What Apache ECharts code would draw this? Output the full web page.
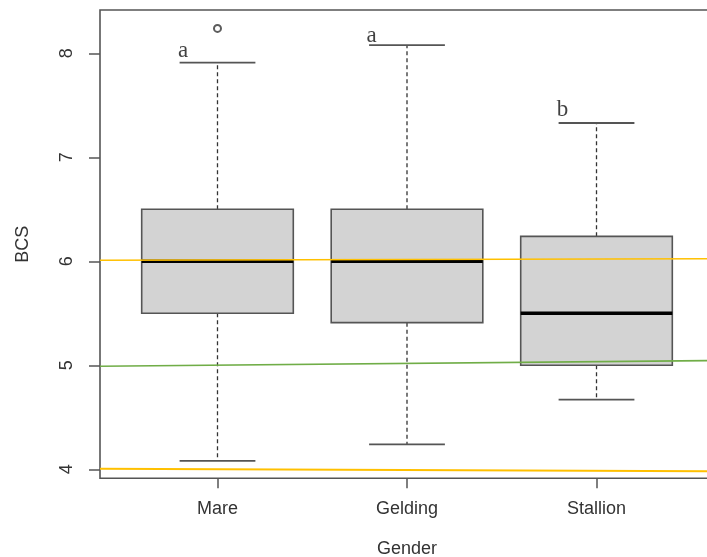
<!DOCTYPE html>
<html>
<head>
<meta charset="utf-8">
<script src="https://cdn.jsdelivr.net/npm/echarts@6/dist/echarts.min.js"></script>
<style>
html, body { margin: 0; padding: 0; background: #fff; }
#main { width: 707px; height: 557px; }
</style>
</head>
<body>
<div id="main"></div>
<script>
// box plot of BCS by gender
var categories = ["Mare", "Gelding", "Stallion"];
var positions = [1, 2, 3];
var lowWhisker = [4.08, 4.24, 4.67];
var q1 = [5.5, 5.41, 5.0];
var median = [6.0, 6.0, 5.5];
var q3 = [6.5, 6.5, 6.24];
var highWhisker = [7.91, 8.08, 7.33];
var outliers = [[1, 8.24]];
var letters = ["a", "a", "b"];
var letterPos = [[0.818, 8.02], [1.813, 8.17], [2.82, 7.46]];
var yTicks = [4, 5, 6, 7, 8];
// hand drawn reference lines
var orangeTop = [[0.38, 6.01], [3.62, 6.025]];
var greenLine = [[0.38, 4.99], [3.62, 5.045]];
var orangeLow = [[0.38, 4.006], [3.62, 3.98]];

var boxData = [];
for (var i = 0; i < categories.length; i++) {
    boxData.push([positions[i], lowWhisker[i], q1[i], median[i], q3[i], highWhisker[i]]);
}
var letterData = [];
for (var j = 0; j < letters.length; j++) {
    letterData.push({ value: letterPos[j], name: letters[j] });
}

function renderBox(params, api) {
    var x = api.value(0);
    var pLo = api.coord([x, api.value(1)]);
    var pQ1 = api.coord([x, api.value(2)]);
    var pMed = api.coord([x, api.value(3)]);
    var pQ3 = api.coord([x, api.value(4)]);
    var pHi = api.coord([x, api.value(5)]);
    var halfBox = api.size([0.4, 0])[0];
    var halfCap = api.size([0.2, 0])[0];
    var cx = pMed[0];
    var dash = { stroke: "#333", lineWidth: 1.3, lineDash: [4, 3] };
    var cap = { stroke: "#555", lineWidth: 1.8 };
    return {
        type: "group",
        children: [
            { type: "line", shape: { x1: cx, y1: pQ3[1], x2: cx, y2: pHi[1] }, style: dash },
            { type: "line", shape: { x1: cx, y1: pQ1[1], x2: cx, y2: pLo[1] }, style: dash },
            { type: "line", shape: { x1: cx - halfCap, y1: pHi[1], x2: cx + halfCap, y2: pHi[1] }, style: cap },
            { type: "line", shape: { x1: cx - halfCap, y1: pLo[1], x2: cx + halfCap, y2: pLo[1] }, style: cap },
            { type: "rect", shape: { x: cx - halfBox, y: pQ3[1], width: halfBox * 2, height: pQ1[1] - pQ3[1] },
              style: { fill: "#D3D3D3", stroke: "#555", lineWidth: 1.6 } },
            { type: "line", shape: { x1: cx - halfBox, y1: pMed[1], x2: cx + halfBox, y2: pMed[1] },
              style: { stroke: "#000", lineWidth: 3.5 } }
        ]
    };
}

var myChart = echarts.init(document.getElementById("main"));
var option = {
    animation: false,
    backgroundColor: "#fff",
    grid: {
        left: 100, top: 10, width: 614, height: 468.3,
        outerBoundsMode: "none", containLabel: false,
        show: true, borderColor: "#555", borderWidth: 1.6, backgroundColor: "transparent"
    },
    xAxis: {
        type: "value", min: 0.38, max: 3.62,
        name: "Gender", nameLocation: "middle", nameGap: 62,
        nameTextStyle: { fontFamily: "Liberation Sans", fontSize: 18, color: "#333" },
        axisLine: { show: false },
        splitLine: { show: false },
        axisTick: { show: true, customValues: positions, length: 10, lineStyle: { color: "#555", width: 1.5 } },
        axisLabel: {
            customValues: positions, margin: 22,
            fontFamily: "Liberation Sans", fontSize: 18, color: "#333",
            formatter: function (v) { return categories[Math.round(v) - 1]; }
        }
    },
    yAxis: {
        type: "value", min: 3.913, max: 8.417,
        name: "BCS", nameLocation: "middle", nameGap: 68,
        nameTextStyle: { fontFamily: "Liberation Sans", fontSize: 18, color: "#333" },
        axisLine: { show: false },
        splitLine: { show: false },
        axisTick: { show: true, customValues: yTicks, length: 11, lineStyle: { color: "#555", width: 1.5 } },
        axisLabel: {
            customValues: yTicks, margin: 24, rotate: 90,
            fontFamily: "Liberation Sans", fontSize: 18, color: "#333"
        }
    },
    series: [
        { type: "custom", renderItem: renderBox, data: boxData, z: 2, silent: true },
        { type: "scatter", data: outliers, symbol: "emptyCircle", symbolSize: 7, z: 3,
          itemStyle: { color: "#333", borderColor: "#333", borderWidth: 1.1 } },
        { type: "scatter", data: letterData, symbolSize: 0, z: 4,
          label: { show: true, position: "inside", formatter: "{b}",
                   fontFamily: "Liberation Serif", fontSize: 23, color: "#111" } },
        { type: "line", data: orangeTop, symbol: "none", z: 5, lineStyle: { color: "#FFC000", width: 1.6 } },
        { type: "line", data: greenLine, symbol: "none", z: 5, lineStyle: { color: "#70AD47", width: 1.6 } },
        { type: "line", data: orangeLow, symbol: "none", z: 5, lineStyle: { color: "#FFC000", width: 2 } }
    ]
};
myChart.setOption(option);
</script>
</body>
</html>
